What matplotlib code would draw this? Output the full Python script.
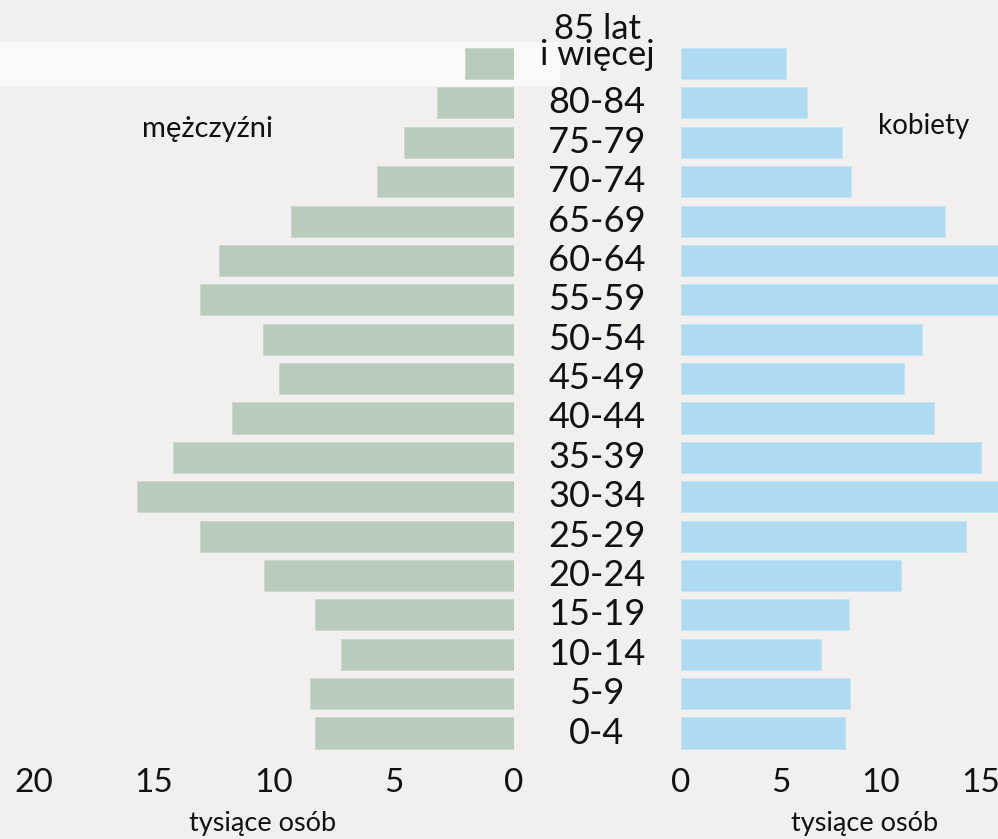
import matplotlib
matplotlib.use("Agg")
import matplotlib.pyplot as plt
import matplotlib.transforms as mtransforms
from matplotlib.patches import Rectangle

plt.rcParams['font.family'] = ['Lato', 'DejaVu Sans']

age_groups = ["0-4", "5-9", "10-14", "15-19", "20-24", "25-29", "30-34", "35-39",
              "40-44", "45-49", "50-54", "55-59", "60-64", "65-69", "70-74",
              "75-79", "80-84", "85 lat\ni więcej"]
men = [8.3, 8.5, 7.2, 8.3, 10.4, 13.1, 15.7, 14.2, 11.75, 9.8, 10.45, 13.1,
       12.3, 9.3, 5.7, 4.6, 3.2, 2.05]
women = [8.2, 8.45, 7.0, 8.4, 11.0, 14.25, 17.0, 15.0, 12.65, 11.15, 12.05,
         16.5, 16.5, 13.2, 8.5, 8.05, 6.3, 5.25]
left_ticks = [0, 5, 10, 15, 20]
right_ticks = [0, 5, 10, 15]

W, H = 998, 839
fig = plt.figure(figsize=(W / 100, H / 100), dpi=100)
fig.patch.set_facecolor('#f1f0ee')

# light strip at top-left of background
fig.patches.append(Rectangle((0, (H - 86) / H), 560 / W, 44 / H,
                             transform=fig.transFigure, facecolor='#f9f9f8',
                             edgecolor='none', zorder=-5))

row_px = 39.38
c0 = 733.0
top_px, bot_px = 20.0, 762.0
y_top = (c0 - top_px) / row_px
y_bot = (c0 - bot_px) / row_px

def fy(p):
    return (H - p) / H

male_color = '#b8cbbd'
female_color = '#afdbf2'

# left axes (men)
axL = fig.add_axes([0, fy(bot_px), 514 / W, (bot_px - top_px) / H])
axL.set_facecolor('none')
axL.set_zorder(2)
scaleL = 24.0
axL.set_xlim(514 / scaleL, 0)
axL.set_ylim(y_bot, y_top)
ys = list(range(len(age_groups)))
axL.barh(ys, men, height=0.79, color=male_color, edgecolor='#c9d8cd', linewidth=0.6)

# right axes (women)
axR = fig.add_axes([681 / W, fy(bot_px), (W - 681) / W, (bot_px - top_px) / H])
axR.set_facecolor('none')
axR.set_zorder(2)
scaleR = 20.0
axR.set_xlim(0, (W - 681) / scaleR)
axR.set_ylim(y_bot, y_top)
axR.barh(ys, women, height=0.79, color=female_color, edgecolor='#c2e3f4', linewidth=0.6)

for ax, ticks in ((axL, left_ticks), (axR, right_ticks)):
    for s in ax.spines.values():
        s.set_visible(False)
    ax.set_yticks([])
    ax.set_xticks(ticks)
    ax.set_xticklabels([str(t) for t in ticks])
    ax.tick_params(axis='x', length=0, pad=4, labelsize=24, labelcolor='#111111')

# age labels in the middle
trans = mtransforms.blended_transform_factory(fig.transFigure, axL.transData)
for i, lab in enumerate(age_groups):
    if '\n' in lab:
        axL.text(597 / W, i + 0.55, lab, transform=trans, ha='center', va='center',
                 fontsize=25, linespacing=0.78, color='#111111', clip_on=False)
    else:
        axL.text(597 / W, i, lab, transform=trans, ha='center', va='center',
                 fontsize=26, color='#111111', clip_on=False)

fig.text(208 / W, fy(129), "mężczyźni", ha='center', va='center', fontsize=21, color='#111111')
fig.text(924 / W, fy(126), "kobiety", ha='center', va='center', fontsize=20, color='#111111')
fig.text(263 / W, fy(823), "tysiące osób", ha='center', va='center', fontsize=19.5, color='#111111')
fig.text(865 / W, fy(823), "tysiące osób", ha='center', va='center', fontsize=19.5, color='#111111')

fig.savefig("out.png", dpi=100, facecolor=fig.get_facecolor())
